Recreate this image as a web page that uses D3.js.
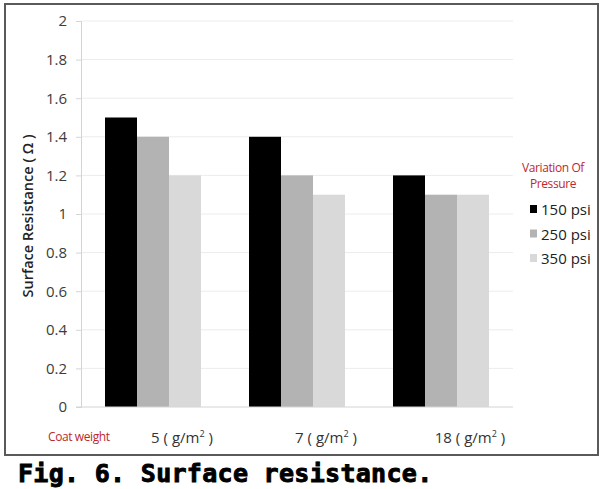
<!DOCTYPE html>
<html>
<head>
<meta charset="utf-8">
<script src="https://cdnjs.cloudflare.com/ajax/libs/d3/7.8.5/d3.min.js"></script>
<style>
  body { margin: 0; background: #fff; }
  svg { display: block; }
</style>
</head>
<body>
<script>
  "use strict";

  // chart data
  var categories = ["5", "7", "18"];
  var series = ["150 psi", "250 psi", "350 psi"];
  var values150 = [1.5, 1.4, 1.2];
  var values250 = [1.4, 1.2, 1.1];
  var values350 = [1.2, 1.1, 1.1];
  var yTicks = [0, 0.2, 0.4, 0.6, 0.8, 1, 1.2, 1.4, 1.6, 1.8, 2];
  var colors = ["#000000", "#b3b3b3", "#d9d9d9"];

  var allValues = [values150, values250, values350];

  var width = 601, height = 489;
  var plot = { left: 81, right: 513, top: 21, bottom: 407 };
  var font = "'Open Sans', 'Noto Sans', sans-serif";

  var svg = d3.select("body").append("svg")
      .attr("width", width)
      .attr("height", height);

  // frame around the chart
  svg.append("rect")
      .attr("x", 5).attr("y", 4)
      .attr("width", 593).attr("height", 451)
      .attr("fill", "#fff")
      .attr("stroke", "#5a5a5a")
      .attr("stroke-width", 2);

  var x0 = d3.scaleBand()
      .domain(categories)
      .range([plot.left, plot.right])
      .paddingInner(1 / 3)
      .paddingOuter(1 / 6);

  var x1 = d3.scaleBand()
      .domain(series)
      .range([0, x0.bandwidth()]);

  var y = d3.scaleLinear()
      .domain([0, 2])
      .range([plot.bottom, plot.top]);

  // gridlines
  svg.append("g")
    .selectAll("line")
    .data(yTicks.filter(function (d) { return d > 0; }))
    .enter().append("line")
      .attr("x1", plot.left).attr("x2", plot.right)
      .attr("y1", function (d) { return y(d); })
      .attr("y2", function (d) { return y(d); })
      .attr("stroke", "#ececec")
      .attr("stroke-width", 1);

  // y axis
  var yAxis = svg.append("g")
      .attr("transform", "translate(" + plot.left + ",0)")
      .call(d3.axisLeft(y).tickValues(yTicks).tickSize(5).tickPadding(9)
        .tickFormat(function (d) { return String(d); }));
  yAxis.select(".domain").attr("stroke", "#d4d4d4");
  yAxis.selectAll(".tick line").attr("stroke", "#d4d4d4");
  yAxis.selectAll(".tick text")
      .attr("fill", "#3c3c3c")
      .style("font-family", font)
      .style("font-size", "15px");

  // bars
  var groups = svg.append("g")
    .selectAll("g")
    .data(categories)
    .enter().append("g")
      .attr("transform", function (d) { return "translate(" + x0(d) + ",0)"; });

  groups.selectAll("rect")
    .data(function (d, i) {
      return series.map(function (s, j) { return { s: s, v: allValues[j][i], j: j }; });
    })
    .enter().append("rect")
      .attr("x", function (d) { return x1(d.s); })
      .attr("width", x1.bandwidth())
      .attr("y", function (d) { return y(d.v); })
      .attr("height", function (d) { return y(0) - y(d.v); })
      .attr("fill", function (d) { return colors[d.j]; });

  // baseline
  svg.append("line")
      .attr("x1", plot.left - 5).attr("x2", plot.right)
      .attr("y1", y(0)).attr("y2", y(0))
      .attr("stroke", "#d4d4d4");

  // category labels (shifted right as in the original)
  var xl = svg.append("g")
    .selectAll("text")
    .data(categories)
    .enter().append("text")
      .attr("x", function (d) { return x0(d) + x0.bandwidth() / 2 + 29; })
      .attr("y", 443)
      .attr("text-anchor", "middle")
      .attr("fill", "#333")
      .style("font-family", font)
      .style("font-size", "15px");
  xl.append("tspan").text(function (d) { return d + " ( g/m"; });
  xl.append("tspan").attr("dy", -6).style("font-size", "9px").text("2");
  xl.append("tspan").attr("dy", 6).text(" )");

  svg.append("text")
      .attr("x", 48).attr("y", 441)
      .attr("fill", "#c0272d")
      .style("font-family", font)
      .style("font-size", "12px")
      .style("letter-spacing", "-0.4px")
      .text("Coat weight");

  // y axis title
  svg.append("text")
      .attr("transform", "translate(33,216) rotate(-90)")
      .attr("text-anchor", "middle")
      .attr("fill", "#222")
      .style("font-family", font)
      .style("font-size", "14.5px")
      .style("font-weight", "600")
      .text("Surface Resistance ( \u03A9 )");

  // legend
  var legTitle = svg.append("text")
      .attr("text-anchor", "middle")
      .attr("fill", "#c0272d")
      .style("font-family", font)
      .style("font-size", "12px")
      .style("letter-spacing", "-0.4px");
  legTitle.append("tspan").attr("x", 553).attr("y", 172).text("Variation Of");
  legTitle.append("tspan").attr("x", 553).attr("y", 188).text("Pressure");

  var leg = svg.append("g")
    .selectAll("g")
    .data(series)
    .enter().append("g")
      .attr("transform", function (d, i) { return "translate(530," + (205 + i * 24.5) + ")"; });
  leg.append("rect")
      .attr("width", 7).attr("height", 8)
      .attr("fill", function (d, i) { return colors[i]; });
  leg.append("text")
      .attr("x", 11).attr("y", 10)
      .attr("fill", "#222")
      .style("font-family", font)
      .style("font-size", "15px")
      .text(function (d) { return d; });

  // caption
  svg.append("text")
      .attr("x", 18).attr("y", 482)
      .attr("fill", "#000")
      .attr("stroke", "#000")
      .attr("stroke-width", 0.9)
      .style("font-family", "'DejaVu Sans Mono', monospace")
      .style("font-size", "25px")
      .style("font-weight", "bold")
      .style("letter-spacing", "0.3px")
      .text("Fig. 6. Surface resistance.");
</script>
</body>
</html>
